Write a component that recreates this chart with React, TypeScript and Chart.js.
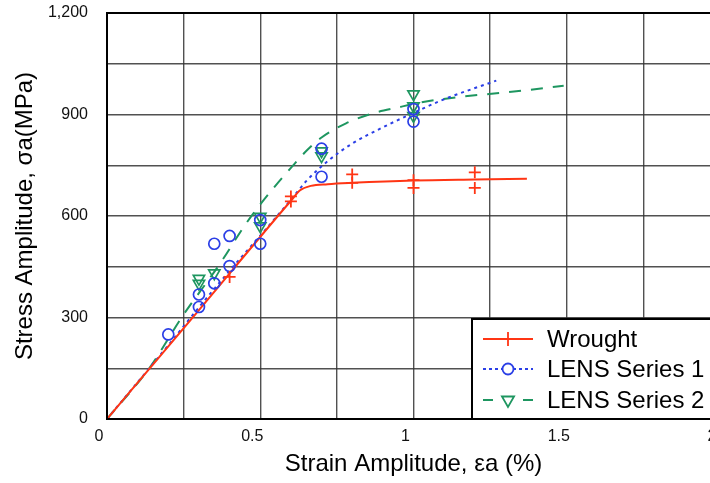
import React, { useEffect, useRef } from 'react';
import { Chart, registerables } from 'chart.js';

Chart.register(...registerables);

// ---- data ----
const wroughtX = [0.4, 0.6, 0.6, 0.8, 0.8, 1.0, 1.0, 1.2, 1.2];
const wroughtY = [420, 658, 643, 723, 698, 706, 683, 729, 683];

const lens1X = [0.2, 0.3, 0.3, 0.35, 0.35, 0.4, 0.4, 0.5, 0.5, 0.7, 0.7, 1.0, 1.0];
const lens1Y = [250, 331, 368, 401, 518, 452, 541, 518, 588, 716, 799, 916, 879];

const lens2X = [0.3, 0.3, 0.35, 0.5, 0.5, 0.7, 0.7, 1.0, 1.0, 1.0];
const lens2Y = [415, 400, 431, 598, 570, 792, 777, 960, 925, 896];

const wroughtFitX = [0, 0.3, 0.6, 0.63, 0.665, 0.72, 0.8, 1.0, 1.2, 1.37];
const wroughtFitY = [0, 322, 645, 676, 689, 694, 698, 705, 708, 710];

const lens1FitX = [0, 0.2, 0.3, 0.4, 0.5, 0.6, 0.65, 0.72, 0.8, 0.9, 1.0, 1.1, 1.27];
const lens1FitY = [0, 218, 330, 438, 542, 648, 703, 762, 814, 862, 905, 945, 1000];

const lens2FitX = [0, 0.14, 0.245, 0.37, 0.45, 0.5, 0.55, 0.6, 0.65, 0.7, 0.78, 0.87, 0.95, 1.02, 1.15, 1.32, 1.49];
const lens2FitY = [0, 153, 302, 461, 573, 634, 690, 742, 792, 832, 874, 904, 921, 935, 952, 967, 985];

const seriesLabels = ['Wrought', 'LENS Series 1', 'LENS Series 2'];
const xTitle = 'Strain Amplitude, \u03B5a (%)';
const yTitle = 'Stress Amplitude, \u03C3a(MPa)';

const RED = '#ff3514';
const BLUE = '#2b3fe6';
const GREEN = '#1e9660';
const FONT = "'Liberation Sans', Arial, Helvetica, sans-serif";

const pts = (xs: number[], ys: number[]) => xs.map((x, i) => ({ x, y: ys[i] }));

const framePlugin = {
  id: 'frame',
  afterDatasetsDraw(chart: any) {
    const { ctx, chartArea: a } = chart;
    ctx.save();
    ctx.strokeStyle = '#000';
    ctx.lineWidth = 2;
    ctx.strokeRect(a.left, a.top, a.right - a.left, a.bottom - a.top);
    ctx.restore();
  },
};

const boxLegendPlugin = {
  id: 'boxLegend',
  afterDraw(chart: any) {
    const { ctx, chartArea: a } = chart;
    const left = a.right - 248;
    const top = a.bottom - 100;
    ctx.save();
    ctx.fillStyle = '#fff';
    ctx.fillRect(left, top, a.right - left, a.bottom - top);
    ctx.strokeStyle = '#000';
    ctx.lineWidth = 2;
    ctx.strokeRect(left, top, a.right - left, a.bottom - top);

    const rows = [top + 20, top + 50, top + 81];
    const sx0 = left + 11;
    const sx1 = left + 61;
    const cx = (sx0 + sx1) / 2;

    // Wrought
    ctx.strokeStyle = RED;
    ctx.lineWidth = 1.8;
    ctx.setLineDash([]);
    ctx.beginPath();
    ctx.moveTo(sx0, rows[0]);
    ctx.lineTo(sx1, rows[0]);
    ctx.moveTo(cx, rows[0] - 7);
    ctx.lineTo(cx, rows[0] + 7);
    ctx.stroke();

    // LENS 1
    ctx.strokeStyle = BLUE;
    ctx.lineWidth = 1.8;
    ctx.setLineDash([3, 3]);
    ctx.beginPath();
    ctx.moveTo(sx0, rows[1]);
    ctx.lineTo(sx1, rows[1]);
    ctx.stroke();
    ctx.setLineDash([]);
    ctx.fillStyle = '#fff';
    ctx.beginPath();
    ctx.arc(cx, rows[1], 5.5, 0, Math.PI * 2);
    ctx.fill();
    ctx.stroke();

    // LENS 2
    ctx.strokeStyle = GREEN;
    ctx.setLineDash([10, 30]);
    ctx.beginPath();
    ctx.moveTo(sx0, rows[2]);
    ctx.lineTo(sx1, rows[2]);
    ctx.stroke();
    ctx.setLineDash([]);
    const r = 7;
    ctx.beginPath();
    ctx.moveTo(cx - r * 0.866, rows[2] - r * 0.5);
    ctx.lineTo(cx + r * 0.866, rows[2] - r * 0.5);
    ctx.lineTo(cx, rows[2] + r);
    ctx.closePath();
    ctx.stroke();

    ctx.fillStyle = '#000';
    ctx.font = `24px ${FONT}`;
    ctx.textBaseline = 'middle';
    ctx.textAlign = 'left';
    seriesLabels.forEach((t, i) => ctx.fillText(t, left + 75, rows[i] + 1));
    ctx.restore();
  },
};

export default function App() {
  const ref = useRef<HTMLCanvasElement>(null);

  useEffect(() => {
    if (!ref.current) return;
    const gridColor = 'rgba(50,50,50,0.85)';
    const chart = new Chart(ref.current, {
      type: 'scatter',
      data: {
        datasets: [
          {
            label: seriesLabels[0],
            data: pts(wroughtX, wroughtY),
            showLine: false,
            pointStyle: 'cross',
            pointRadius: 6,
            borderColor: RED,
            backgroundColor: 'transparent',
            pointBorderWidth: 1.8,
          },
          {
            label: seriesLabels[1],
            data: pts(lens1X, lens1Y),
            showLine: false,
            pointStyle: 'circle',
            pointRadius: 5.5,
            borderColor: BLUE,
            backgroundColor: 'transparent',
            pointBorderWidth: 1.7,
          },
          {
            label: seriesLabels[2],
            data: pts(lens2X, lens2Y),
            showLine: false,
            pointStyle: 'triangle',
            pointRotation: 180,
            pointRadius: 6.5,
            borderColor: GREEN,
            backgroundColor: 'transparent',
            pointBorderWidth: 1.7,
          },
          {
            label: seriesLabels[0] + ' fit',
            data: pts(wroughtFitX, wroughtFitY),
            showLine: true,
            pointRadius: 0,
            borderColor: RED,
            borderWidth: 2,
            cubicInterpolationMode: 'monotone',
          },
          {
            label: seriesLabels[1] + ' fit',
            data: pts(lens1FitX, lens1FitY),
            showLine: true,
            pointRadius: 0,
            borderColor: BLUE,
            borderWidth: 2,
            borderDash: [3, 4],
            cubicInterpolationMode: 'monotone',
          },
          {
            label: seriesLabels[2] + ' fit',
            data: pts(lens2FitX, lens2FitY),
            showLine: true,
            pointRadius: 0,
            borderColor: GREEN,
            borderWidth: 2,
            borderDash: [12, 10],
            cubicInterpolationMode: 'monotone',
          },
        ],
      } as any,
      options: {
        animation: false,
        responsive: false,
        devicePixelRatio: 1,
        layout: { padding: { top: 13, right: 10, left: 0, bottom: 0 } },
        plugins: { legend: { display: false }, tooltip: { enabled: false } },
        font: { family: FONT },
        scales: {
          x: {
            type: 'linear',
            min: 0,
            max: 2,
            afterFit: (s: any) => { s.height = 64; s.paddingLeft = 0; s.paddingRight = 0; },
            border: { display: false },
            grid: { color: gridColor, lineWidth: 1.4, drawTicks: false },
            ticks: {
              stepSize: 0.25,
              autoSkip: false,
              maxRotation: 0,
              labelOffset: -8,
              padding: 8,
              color: '#111',
              font: { size: 16, family: FONT },
              callback: (v: any) => {
                const n = Number(v);
                return Math.abs(n * 2 - Math.round(n * 2)) < 1e-6 ? String(Number(n.toFixed(2))) : '';
              },
            },
            title: {
              display: true,
              text: xTitle,
              color: '#000',
              font: { size: 24, family: FONT },
              padding: { top: 0, bottom: 4 },
            },
          },
          y: {
            type: 'linear',
            min: 0,
            max: 1200,
            afterFit: (s: any) => { s.width = 107; s.paddingTop = 0; s.paddingBottom = 0; },
            border: { display: false },
            grid: { color: gridColor, lineWidth: 1.4, drawTicks: false },
            ticks: {
              stepSize: 150,
              autoSkip: false,
              padding: 19,
              color: '#111',
              font: { size: 16, family: FONT },
              callback: (v: any) => (Number(v) % 300 === 0 ? Number(v).toLocaleString('en-US') : ''),
            },
            title: {
              display: true,
              text: yTitle,
              color: '#000',
              font: { size: 24, family: FONT },
              padding: { top: 11, bottom: 0 },
            },
          },
        },
      } as any,
      plugins: [framePlugin, boxLegendPlugin],
    });
    return () => chart.destroy();
  }, []);

  return (
    <div style={{ position: 'fixed', left: 0, top: 0, width: 710, height: 483, overflow: 'hidden', background: '#fff' }}>
      <canvas ref={ref} width={730} height={483} style={{ display: 'block' }} />
    </div>
  );
}
